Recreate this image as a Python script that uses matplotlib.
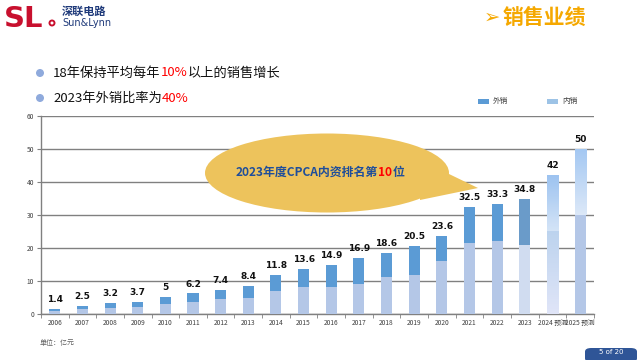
import matplotlib
matplotlib.use("Agg")
import matplotlib.pyplot as plt
import numpy as np
from matplotlib.patches import Ellipse, Polygon, Rectangle, FancyBboxPatch, Circle
from matplotlib.colors import LinearSegmentedColormap
from matplotlib.text import Annotation

plt.rcParams['font.family'] = ['Noto Sans CJK SC', 'DejaVu Sans']

years = ['2006', '2007', '2008', '2009', '2010', '2011', '2012', '2013', '2014', '2015',
         '2016', '2017', '2018', '2019', '2020', '2021', '2022', '2023', '2024 预测', '2025 预测']
totals = [1.4, 2.5, 3.2, 3.7, 5, 6.2, 7.4, 8.4, 11.8, 13.6,
          14.9, 16.9, 18.6, 20.5, 23.6, 32.5, 33.3, 34.8, 42, 50]
domestic = [1.0, 1.5, 1.8, 2.1, 3.0, 3.6, 4.5, 4.8, 7.0, 8.2,
            8.2, 9.1, 11.2, 11.8, 16.1, 21.5, 22.1, 20.9, 25.2, 30.0]
export = [t - d for t, d in zip(totals, domestic)]
yticks = [0, 10, 20, 30, 40, 50, 60]
legend_labels = ['外销', '内销']

C_EXP = '#5B9BD5'
C_DOM = '#B4C7E7'

fig = plt.figure(figsize=(6.4, 3.6), dpi=100)
ax = fig.add_axes([0.064, 0.128, 0.864, 0.550])

x = np.arange(len(years))
w = 0.40
exp_colors = [C_EXP] * len(years)
dom_colors = [C_DOM] * len(years)
exp_colors[17] = '#6A9BC9'
dom_colors[17] = '#D0DCF0'

bars_d = ax.bar(x, domestic, w, color=dom_colors, zorder=3)
bars_e = ax.bar(x, export, w, bottom=domestic, color=exp_colors, zorder=3)


def grad(ax, bar, c_top, c_bot):
    bar.set_alpha(0)
    x0 = bar.get_x(); x1 = x0 + bar.get_width()
    y0 = bar.get_y(); y1 = y0 + bar.get_height()
    cm = LinearSegmentedColormap.from_list('g', [c_bot, c_top])
    im = ax.imshow(np.linspace(0, 1, 64).reshape(-1, 1), cmap=cm, aspect='auto',
                   extent=(x0, x1, y0, y1), origin='lower', zorder=3)
    im.set_clip_path(Rectangle((x0, y0), x1 - x0, y1 - y0, transform=ax.transData))


grad(ax, bars_e[18], '#9DC3F0', '#D4E4F7')
grad(ax, bars_d[18], '#BCD3EE', '#E0E5F8')
grad(ax, bars_e[19], '#A4C8F2', '#DCE8F8')

for xi, t in zip(x, totals):
    ax.text(xi, t + 1.5, f'{t:g}', ha='center', va='bottom', fontsize=6.5,
            fontweight='bold', color='#111111', family=['DejaVu Sans'])

ax.set_xlim(-0.5, len(years) - 0.5)
ax.set_ylim(0, 60)
ax.set_yticks(yticks)
ax.set_yticklabels([str(v) for v in yticks], fontsize=4.8, color='#404040')
ax.set_xticks(x)
ax.set_xticklabels(years, fontsize=4.8, color='#404040')
ax.set_xticks(np.arange(-0.5, len(years), 1), minor=True)
ax.tick_params(axis='x', which='major', length=0, pad=4)
ax.tick_params(axis='x', which='minor', length=3, color='#808080', direction='out')
ax.tick_params(axis='y', length=3, color='#808080', pad=2)
ax.yaxis.grid(True, color='#808080', linewidth=1.0, zorder=0)
ax.set_axisbelow(True)
for s in ['top', 'right']:
    ax.spines[s].set_visible(False)
for s in ['left', 'bottom']:
    ax.spines[s].set_color('#808080')
    ax.spines[s].set_linewidth(1.0)

# legend (manual)
for (px, tx), lab, col in zip([(478, 493), (547, 562)], legend_labels, [C_EXP, '#9DC3E6']):
    fig.add_artist(Rectangle((px / 640, 1 - 104 / 360), 11 / 640, 5.5 / 360,
                             transform=fig.transFigure, facecolor=col, edgecolor='none'))
    fig.text(tx / 640, 1 - 101 / 360, lab, fontsize=5.5, color='#404040', va='center', ha='left')

# callout ellipse
ell = Ellipse((327 / 640, 1 - 173 / 360), 244 / 640, 79 / 360, transform=fig.transFigure,
              facecolor='#EDC35C', edgecolor='none', zorder=5)
fig.add_artist(ell)
tail = Polygon([(420 / 640, 1 - 160 / 360), (478 / 640, 1 - 188 / 360), (420 / 640, 1 - 200 / 360)],
               closed=True, transform=fig.transFigure, facecolor='#EDC35C', edgecolor='none', zorder=5)
fig.add_artist(tail)


def chain(parts, x0, y0, zorder=6, **kw):
    prev = fig.text(x0, y0, parts[0][0], color=parts[0][1], va='center', ha='left',
                    zorder=zorder, **kw)
    for txt, col in parts[1:]:
        a = Annotation(txt, xy=(1, 0), xycoords=prev, va='bottom', ha='left', color=col,
                       annotation_clip=False, **kw)
        a.set_zorder(zorder)
        fig.add_artist(a)
        prev = a
    return prev


chain([('2023年度CPCA内资排名第', '#1F4E9A'), ('10', '#FF0000'), ('位', '#1F4E9A')],
      236 / 640, 1 - 172 / 360, fontsize=8.6, fontweight='bold')

# bullets
for yy, parts in [(73, [('18年保持平均每年', '#111111'), ('10%', '#FF0000'), ('以上的销售增长', '#111111')]),
                  (98, [('2023年外销比率为', '#111111'), ('40%', '#FF0000')])]:
    fig.add_artist(Circle((0.40, 3.6 - yy / 100), 0.04, transform=fig.dpi_scale_trans,
                          facecolor='#8FAADC', edgecolor='none'))
    chain(parts, 53 / 640, 1 - yy / 360, fontsize=9.5)

# title
fig.text(484 / 640, 1 - 17 / 360, '➢', fontsize=14, color='#F5A800', va='center', ha='left',
         family=['DejaVu Sans'])
fig.text(503 / 640, 1 - 17 / 360, '销售业绩', fontsize=15, color='#F5A800', va='center',
         ha='left', fontweight='bold')

# logo
fig.text(4 / 640, 1 - 19 / 360, 'SL', fontsize=21, color='#C8102E', va='center', ha='left',
         fontweight='bold', family=['DejaVu Sans'])
fig.add_artist(Circle((0.52, 3.6 - 0.23), 0.025, transform=fig.dpi_scale_trans,
                      facecolor='none', edgecolor='#C8102E', linewidth=1.4))
fig.text(62 / 640, 1 - 11 / 360, '深联电路', fontsize=8, color='#1F3A7A', va='center',
         ha='left', fontweight='bold')
fig.text(62 / 640, 1 - 23 / 360, 'Sun&Lynn', fontsize=7, color='#1F3A7A', va='center',
         ha='left', family=['DejaVu Sans'])

# unit
fig.text(40 / 640, 1 - 343 / 360, '单位：亿元', fontsize=5, color='#606060', va='center', ha='left')

# page badge
badge = FancyBboxPatch((585 / 640, 1 - 362 / 360), 52 / 640, 14 / 360,
                       boxstyle='round,pad=0,rounding_size=0.01', transform=fig.transFigure,
                       facecolor='#2F5597', edgecolor='none')
fig.add_artist(badge)
fig.text(611 / 640, 1 - 352 / 360, '5 of 20', fontsize=5, color='white', va='center',
         ha='center', family=['DejaVu Sans'])

fig.savefig('out.png', dpi=100)
